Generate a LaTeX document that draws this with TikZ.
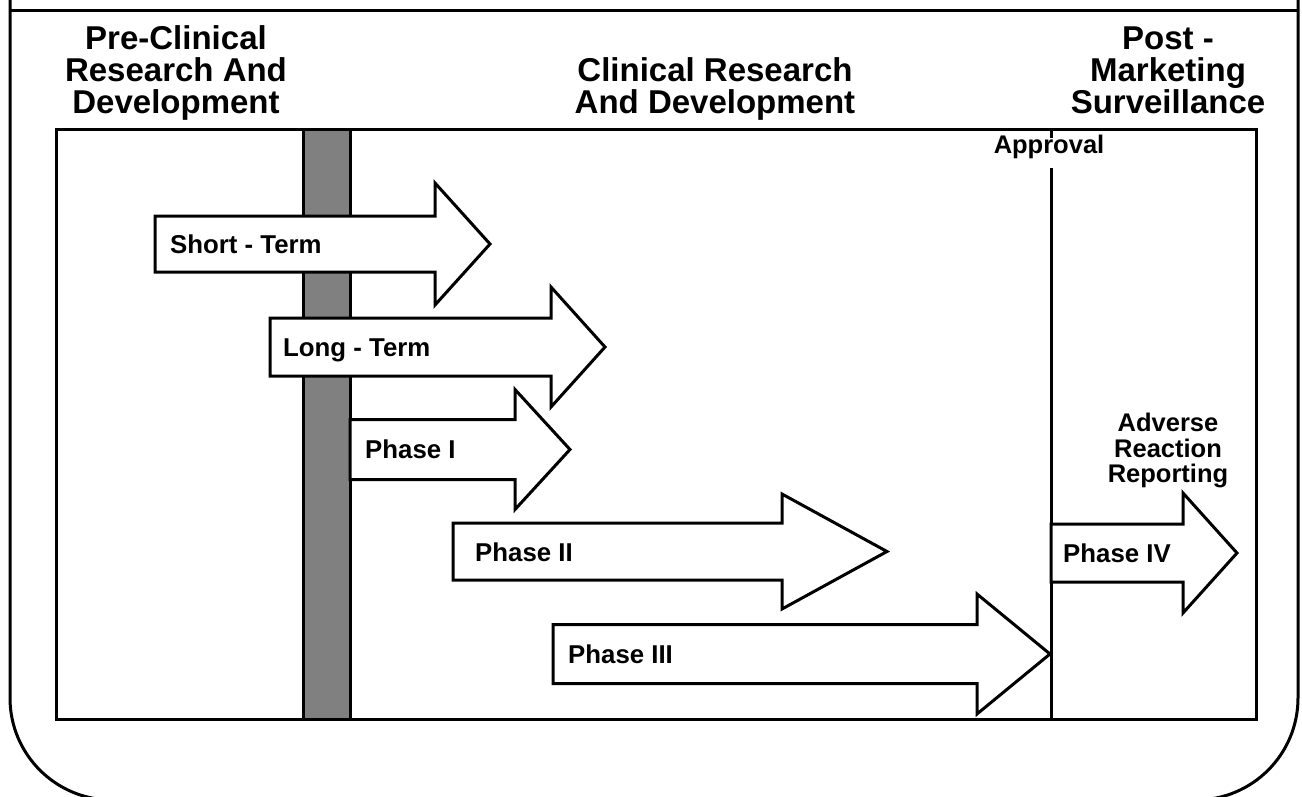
\documentclass[tikz,border=0pt]{standalone}
\usepackage{fontspec}
\setmainfont{Liberation Sans}
\newcommand\blockarr[6]{%
  \draw[arrowshape] (#1,#4-#5) -- (#2,#4-#5) -- (#2,#4-#6) -- (#3,#4)
    -- (#2,#4+#6) -- (#2,#4+#5) -- (#1,#4+#5) -- cycle;}
\tikzset{
  frame/.style={line width=3pt, draw=black},
  innerbox/.style={line width=3pt, draw=black, fill=white},
  graybar/.style={line width=3pt, draw=black, fill=black!50},
  arrowshape/.style={line width=3pt, draw=black, fill=white, line join=miter},
  title/.style={font=\bfseries\fontsize{33}{32}\selectfont, align=center,
    anchor=south, inner sep=0pt, text depth=7pt},
  lbl/.style={font=\bfseries\fontsize{25.8}{26}\selectfont, anchor=base west, inner sep=0pt},
  note/.style={font=\bfseries\fontsize{25.5}{25.5}\selectfont, align=center,
    anchor=south, inner sep=0pt, text depth=6pt},
}
\begin{document}
\begin{tikzpicture}[x=1pt, y=-1pt]
\useasboundingbox (0,0) rectangle (1302,796);
\clip (0,0) rectangle (1302,796);
% outer frame
\draw[frame, rounded corners=102pt] (10,-150) rectangle (1298,800);
\coordinate (tl) at (10,10);
\coordinate (tr) at (1298,10);
\draw[frame] (tl) -- (tr);
% titles
\node[title] (pre) at (176,121) {Pre-Clinical\\Research And\\Development};
\node[title] (clin) at (715,121) {Clinical Research\\And Development};
\node[title] (post) at (1168,121) {Post -\\Marketing\\Surveillance};
% inner box
\draw[innerbox] (56,129) rectangle (1256,719);
\draw[graybar] (303,129) rectangle (350,719);
% approval line
\coordinate (apt) at (1051,129);
\coordinate (apb) at (1051,719);
\draw[line width=3pt] (apt) -- (apb);
\node[font=\bfseries\fontsize{25.5}{26}\selectfont, anchor=base, fill=white,
  inner xsep=0pt, inner ysep=2pt, text height=13pt, text depth=13pt] (appr) at (1049,153) {Approval};
% arrows
\blockarr{155}{435}{490}{244}{28}{61}
\blockarr{270}{551}{605}{347}{29}{60}
\blockarr{350}{515}{570}{449.5}{30}{60}
\blockarr{453}{782}{887}{551.5}{28.5}{57.5}
\blockarr{553}{977}{1050}{654}{29.5}{60}
\blockarr{1051}{1183}{1237}{553}{29}{60}
% labels
\node[lbl] (st) at (170,253.5) {Short - Term};
\node[lbl] (lt) at (283,356.5) {Long - Term};
\node[lbl] (p1) at (365,458.5) {Phase I};
\node[lbl] (p2) at (475,561) {Phase II};
\node[lbl] (p3) at (568,663.5) {Phase III};
\node[lbl] (p4) at (1063,562.5) {Phase IV};
\node[note] (adv) at (1168,489) {Adverse\\Reaction\\Reporting};
\end{tikzpicture}
\end{document}
